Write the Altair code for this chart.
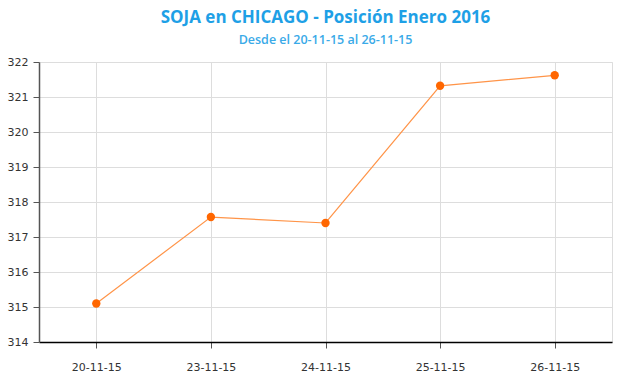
import altair as alt
import pandas as pd

fechas = ["20-11-15", "23-11-15", "24-11-15", "25-11-15", "26-11-15"]
precios = [315.1, 317.57, 317.4, 321.32, 321.62]
y_ticks = [314, 315, 316, 317, 318, 319, 320, 321, 322]

df = pd.DataFrame({"fecha": fechas, "precio": precios})

x = alt.X("fecha:N", sort=fechas, title=None,
          scale=alt.Scale(paddingInner=0, paddingOuter=0),
          axis=alt.Axis(labelAngle=0, labelFont="DejaVu Sans", labelFontSize=11,
                        labelColor="#333333", labelPadding=13, domainColor="#000000",
                        domainWidth=1.5, tickColor="#555555", tickSize=6, bandPosition=0.5,
                        grid=True, gridColor="#dddddd"))
y = alt.Y("precio:Q", title=None,
          scale=alt.Scale(domain=[314, 322], nice=False, zero=False),
          axis=alt.Axis(values=y_ticks, format="d", labelFont="DejaVu Sans", labelFontSize=11,
                        labelColor="#333333", labelPadding=5, domainColor="#555555",
                        domainWidth=1.5, tickColor="#555555", tickSize=6,
                        gridColor="#dddddd"))

line = alt.Chart(df).mark_line(color="#ff9448", strokeWidth=1.2).encode(x=x, y=y)
pts = alt.Chart(df).mark_point(filled=True, color="#ff6600", size=70, opacity=1).encode(x=x, y=y)

chart = (line + pts).properties(
    width=573, height=280,
    title=alt.TitleParams(
        text="SOJA en CHICAGO - Posición Enero 2016",
        subtitle="Desde el 20-11-15 al 26-11-15",
        font="Open Sans", fontSize=17, fontWeight="bold", color="#1ea0e6",
        subtitleFont="Open Sans", subtitleFontSize=12.5, subtitleFontWeight=600,
        subtitleColor="#3aaae8", subtitlePadding=7, anchor="middle", offset=9),
    autosize=alt.AutoSizeParams(type="none"),
    padding={"left": 39, "top": 62, "right": 8, "bottom": 33},
).configure_view(stroke=None).configure(background="white")

chart.save("out.html", embed_options={"renderer": "svg", "actions": False})
